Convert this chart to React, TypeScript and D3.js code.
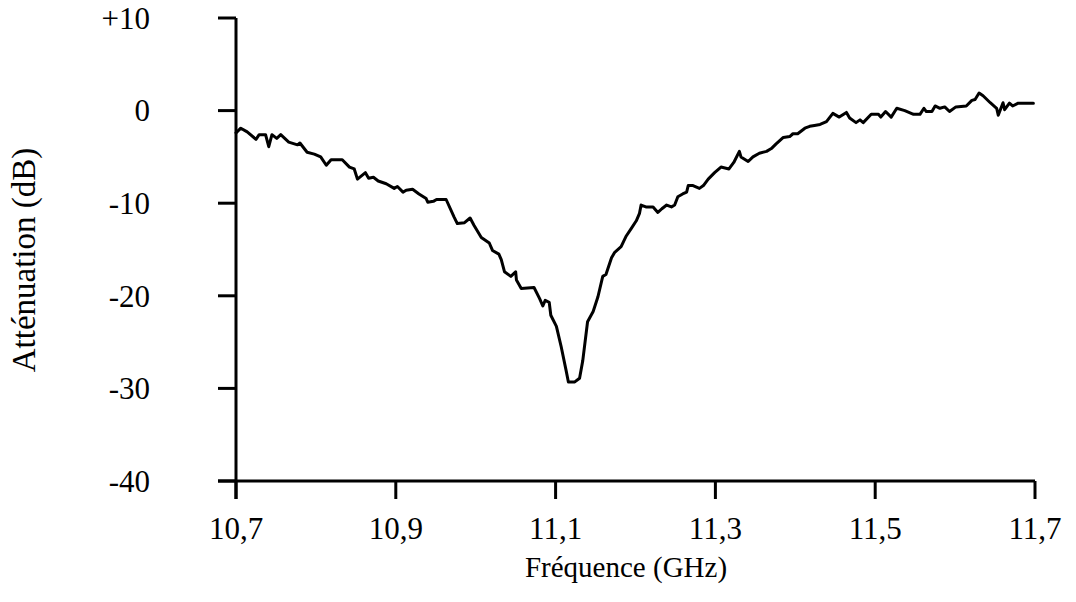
import React from "react";
import * as d3 from "d3";

const freq: number[] = [
  10.700, 10.706, 10.714, 10.725, 10.729, 10.737, 10.741, 10.745, 10.751, 10.756,
  10.766, 10.777, 10.780, 10.789, 10.798, 10.806, 10.813, 10.819, 10.833, 10.842,
  10.848, 10.852, 10.862, 10.866, 10.872, 10.878, 10.888, 10.898, 10.902, 10.909,
  10.913, 10.921, 10.929, 10.938, 10.940, 10.947, 10.951, 10.963, 10.973, 10.977,
  10.986, 10.993, 10.998, 11.007, 11.017, 11.021, 11.029, 11.032, 11.036, 11.044,
  11.050, 11.051, 11.057, 11.073, 11.080, 11.084, 11.087, 11.092, 11.094, 11.101,
  11.107, 11.113, 11.116, 11.124, 11.130, 11.134, 11.140, 11.147, 11.153, 11.159,
  11.163, 11.170, 11.174, 11.182, 11.188, 11.195, 11.201, 11.205, 11.207, 11.213,
  11.222, 11.228, 11.233, 11.239, 11.245, 11.249, 11.253, 11.259, 11.264, 11.266,
  11.272, 11.280, 11.285, 11.291, 11.299, 11.307, 11.317, 11.323, 11.330, 11.332,
  11.341, 11.347, 11.355, 11.364, 11.370, 11.376, 11.385, 11.393, 11.397, 11.403,
  11.412, 11.418, 11.424, 11.431, 11.439, 11.447, 11.455, 11.464, 11.468, 11.476,
  11.481, 11.485, 11.495, 11.504, 11.507, 11.513, 11.520, 11.527, 11.537, 11.548,
  11.556, 11.561, 11.564, 11.571, 11.575, 11.581, 11.587, 11.593, 11.601, 11.614,
  11.621, 11.625, 11.630, 11.635, 11.644, 11.652, 11.654, 11.660, 11.662, 11.668,
  11.672, 11.679, 11.698,
];

const attenuation: number[] = [
  -2.4, -1.9, -2.3, -3.1, -2.6, -2.6, -3.9, -2.6, -3.0, -2.6,
  -3.4, -3.7, -3.5, -4.5, -4.7, -5.0, -5.9, -5.3, -5.3, -6.1,
  -6.3, -7.4, -6.7, -7.3, -7.2, -7.6, -7.9, -8.4, -8.2, -8.8,
  -8.6, -8.5, -9.0, -9.5, -9.9, -9.8, -9.6, -9.6, -11.5, -12.2,
  -12.1, -11.6, -12.4, -13.7, -14.3, -15.1, -15.5, -16.1, -17.4, -17.9,
  -17.4, -18.3, -19.2, -19.1, -20.3, -21.1, -20.5, -20.7, -22.1, -23.3,
  -25.5, -28.0, -29.3, -29.3, -28.9, -27.0, -22.8, -21.7, -20.1, -17.9,
  -17.7, -15.9, -15.3, -14.7, -13.6, -12.7, -11.9, -11.1, -10.2, -10.4,
  -10.4, -11.0, -10.6, -10.2, -10.4, -10.2, -9.3, -9.0, -8.8, -8.1,
  -8.1, -8.4, -8.1, -7.4, -6.7, -6.1, -6.3, -5.6, -4.4, -5.0,
  -5.5, -5.0, -4.6, -4.4, -4.1, -3.6, -2.9, -2.8, -2.5, -2.5,
  -1.9, -1.7, -1.6, -1.5, -1.2, -0.3, -0.7, -0.2, -0.8, -1.3,
  -1.0, -1.3, -0.4, -0.4, -0.7, -0.1, -0.7, 0.25, 0.0, -0.4,
  -0.4, 0.25, -0.1, -0.1, 0.5, 0.25, 0.4, -0.1, 0.4, 0.5,
  1.1, 1.2, 1.9, 1.6, 0.85, 0.25, -0.5, 0.85, 0.1, 0.8,
  0.5, 0.8, 0.8,
];

const xTicks: number[] = [10.7, 10.9, 11.1, 11.3, 11.5, 11.7];
const xTickLabels: string[] = ["10,7", "10,9", "11,1", "11,3", "11,5", "11,7"];
const yTicks: number[] = [10, 0, -10, -20, -30, -40];
const yTickLabels: string[] = ["+10", "0", "-10", "-20", "-30", "-40"];

const xTitle = "Fréquence (GHz)";
const yTitle = "Atténuation (dB)";

export default function App() {
  const W = 1076;
  const H = 602;
  const x = d3.scaleLinear().domain([10.7, 11.7]).range([236, 1035]);
  const y = d3.scaleLinear().domain([-40, 10]).range([481, 18]);

  const pts = freq.map((f, i) => [f, attenuation[i]] as [number, number]);
  const line = d3
    .line<[number, number]>()
    .x((d) => x(d[0]))
    .y((d) => y(d[1]));

  const font = "'Liberation Serif', 'DejaVu Serif', serif";
  const tickLen = 18;
  const sw = 3;

  return (
    <svg
      width={W}
      height={H}
      style={{ position: "absolute", left: 0, top: 0, background: "#fff" }}
      fontFamily={font}
    >
      <rect width={W} height={H} fill="#fff" />
      <line x1={x(10.7)} x2={x(10.7)} y1={y(10)} y2={y(-40) + tickLen} stroke="#000" strokeWidth={sw} />
      <line x1={x(10.7) - tickLen} x2={x(11.7)} y1={y(-40)} y2={y(-40)} stroke="#000" strokeWidth={sw} />
      {yTicks.map((t, i) => (
        <g key={"y" + i}>
          <line x1={x(10.7) - tickLen} x2={x(10.7)} y1={y(t)} y2={y(t)} stroke="#000" strokeWidth={sw} />
          <text
            x={150}
            y={y(t)}
            dy="0.35em"
            textAnchor="end"
            fontSize={31}
            fill="#000"
          >
            {yTickLabels[i]}
          </text>
        </g>
      ))}
      {xTicks.map((t, i) => (
        <g key={"x" + i}>
          <line x1={x(t)} x2={x(t)} y1={y(-40)} y2={y(-40) + tickLen} stroke="#000" strokeWidth={sw} />
          <text x={x(t)} y={539} textAnchor="middle" fontSize={31} fill="#000">
            {xTickLabels[i]}
          </text>
        </g>
      ))}
      <text x={626} y={577} textAnchor="middle" fontSize={29} fill="#000">
        {xTitle}
      </text>
      <text
        transform={`translate(35, 260) rotate(-90)`}
        textAnchor="middle"
        fontSize={33}
        fill="#000"
      >
        {yTitle}
      </text>
      <path
        d={line(pts) || ""}
        fill="none"
        stroke="#000"
        strokeWidth={3}
        strokeLinejoin="round"
        strokeLinecap="round"
      />
    </svg>
  );
}
